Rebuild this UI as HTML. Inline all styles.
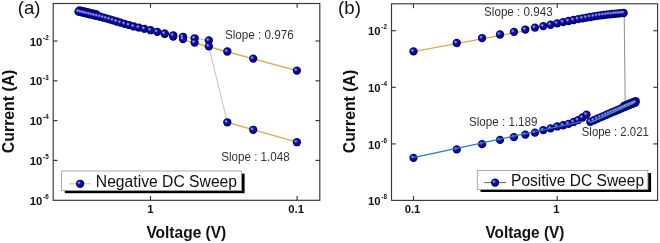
<!DOCTYPE html>
<html><head><meta charset="utf-8"><style>
html,body{margin:0;padding:0;background:#fff;}
body{width:660px;height:243px;overflow:hidden;}
svg{display:block;filter:blur(0.35px);}
text{font-family:"Liberation Sans",sans-serif;}
.tl{font-size:11.3px;font-weight:bold;fill:#111;}
.sup{font-size:6.3px;font-weight:bold;fill:#111;}
.at{font-weight:bold;fill:#111;}
.pl{font-size:18.6px;fill:#111;}
.sl{fill:#333;}
.lg{fill:#111;}
.tk{stroke:#383838;stroke-width:1.15;}
</style></head><body>
<svg width="660" height="243" viewBox="0 0 660 243">
<defs>
<radialGradient id="sg" cx="0.5" cy="0.5" r="0.5" fx="0.38" fy="0.36">
<stop offset="0" stop-color="#2c2cb6"/>
<stop offset="0.35" stop-color="#12129e"/>
<stop offset="0.75" stop-color="#06068a"/>
<stop offset="1" stop-color="#00006a"/>
</radialGradient>
<radialGradient id="hg" cx="0.5" cy="0.5" r="0.5">
<stop offset="0" stop-color="#b8b8f8" stop-opacity="0.95"/>
<stop offset="0.45" stop-color="#8c8ce8" stop-opacity="0.7"/>
<stop offset="1" stop-color="#6060e0" stop-opacity="0"/>
</radialGradient>
</defs>
<rect width="660" height="243" fill="#fff"/>
<rect x="53.2" y="3.5" width="266.60" height="196.80" fill="none" stroke="#383838" stroke-width="1.15"/>
<line x1="150.5" y1="3.5" x2="150.5" y2="7.8" class="tk"/>
<line x1="150.5" y1="200.3" x2="150.5" y2="196.0" class="tk"/>
<line x1="297.1" y1="3.5" x2="297.1" y2="7.8" class="tk"/>
<line x1="297.1" y1="200.3" x2="297.1" y2="196.0" class="tk"/>
<line x1="53.2" y1="41.0" x2="57.5" y2="41.0" class="tk"/>
<line x1="319.8" y1="41.0" x2="315.5" y2="41.0" class="tk"/>
<line x1="53.2" y1="80.8" x2="57.5" y2="80.8" class="tk"/>
<line x1="319.8" y1="80.8" x2="315.5" y2="80.8" class="tk"/>
<line x1="53.2" y1="120.6" x2="57.5" y2="120.6" class="tk"/>
<line x1="319.8" y1="120.6" x2="315.5" y2="120.6" class="tk"/>
<line x1="53.2" y1="160.4" x2="57.5" y2="160.4" class="tk"/>
<line x1="319.8" y1="160.4" x2="315.5" y2="160.4" class="tk"/>
<rect x="391.5" y="3.8" width="266.10" height="196.60" fill="none" stroke="#383838" stroke-width="1.15"/>
<line x1="413.5" y1="3.8" x2="413.5" y2="8.1" class="tk"/>
<line x1="413.5" y1="200.4" x2="413.5" y2="196.1" class="tk"/>
<line x1="557.2" y1="3.8" x2="557.2" y2="8.1" class="tk"/>
<line x1="557.2" y1="200.4" x2="557.2" y2="196.1" class="tk"/>
<line x1="391.5" y1="30.7" x2="395.8" y2="30.7" class="tk"/>
<line x1="657.6" y1="30.7" x2="653.3000000000001" y2="30.7" class="tk"/>
<line x1="391.5" y1="87.3" x2="395.8" y2="87.3" class="tk"/>
<line x1="657.6" y1="87.3" x2="653.3000000000001" y2="87.3" class="tk"/>
<line x1="391.5" y1="143.9" x2="395.8" y2="143.9" class="tk"/>
<line x1="657.6" y1="143.9" x2="653.3000000000001" y2="143.9" class="tk"/>
<text x="42.3" y="45.6" class="tl" text-anchor="end">10</text><text x="43.1" y="39.7" class="sup">-2</text>
<text x="42.3" y="85.4" class="tl" text-anchor="end">10</text><text x="43.1" y="79.5" class="sup">-3</text>
<text x="42.3" y="125.2" class="tl" text-anchor="end">10</text><text x="43.1" y="119.3" class="sup">-4</text>
<text x="42.3" y="165.0" class="tl" text-anchor="end">10</text><text x="43.1" y="159.1" class="sup">-5</text>
<text x="42.3" y="204.8" class="tl" text-anchor="end">10</text><text x="43.1" y="198.9" class="sup">-6</text>
<text x="380.5" y="35.3" class="tl" text-anchor="end">10</text><text x="381.3" y="29.4" class="sup">-2</text>
<text x="380.5" y="91.9" class="tl" text-anchor="end">10</text><text x="381.3" y="86.0" class="sup">-4</text>
<text x="380.5" y="148.5" class="tl" text-anchor="end">10</text><text x="381.3" y="142.6" class="sup">-6</text>
<text x="380.5" y="205.1" class="tl" text-anchor="end">10</text><text x="381.3" y="199.2" class="sup">-8</text>
<text x="150.4" y="212.9" class="tl" text-anchor="middle">1</text>
<text x="296.2" y="212.9" class="tl" text-anchor="middle">0.1</text>
<text x="412.5" y="212.9" class="tl" text-anchor="middle">0.1</text>
<text x="556.5" y="212.9" class="tl" text-anchor="middle">1</text>
<text x="146.38" y="237.80" class="at" font-size="16.2" textLength="79.91" lengthAdjust="spacingAndGlyphs" >Voltage (V)</text>
<text x="485.49" y="237.70" class="at" font-size="16.2" textLength="78.80" lengthAdjust="spacingAndGlyphs" >Voltage (V)</text>
<g transform="translate(13.7 0) rotate(-90)"><text x="-153.13" y="0.00" class="at" font-size="16.5" textLength="83.52" lengthAdjust="spacingAndGlyphs" >Current (A)</text></g>
<g transform="translate(354.9 0) rotate(-90)"><text x="-153.23" y="0.00" class="at" font-size="16.5" textLength="83.42" lengthAdjust="spacingAndGlyphs" >Current (A)</text></g>
<text x="17.8" y="14.2" class="pl">(a)</text>
<text x="338.1" y="14.2" class="pl">(b)</text>
<polyline points="208.84,40.41 194.63,38.30 183.02,36.80 173.21,35.30 164.71,33.68 157.21,31.80" fill="none" stroke="#b8b8b8" stroke-width="0.8"/>
<line x1="208.8" y1="46.5" x2="227.3" y2="122.3" stroke="#b4b4b4" stroke-width="0.8"/>
<line x1="180" y1="39.0" x2="296.9" y2="70.6" stroke="#cdb04c" stroke-width="1.3"/>
<line x1="227.3" y1="122.3" x2="296.9" y2="142.2" stroke="#cdb04c" stroke-width="1.3"/>
<line x1="413.3" y1="51.6" x2="522" y2="31.4" stroke="#cdb04c" stroke-width="1.3"/>
<line x1="624.2" y1="14" x2="625.2" y2="104" stroke="#7a7a7a" stroke-width="0.85"/>
<circle cx="79.50" cy="10.41" r="4.15" fill="url(#sg)"/>
<circle cx="81.62" cy="10.89" r="4.15" fill="url(#sg)"/>
<circle cx="83.82" cy="11.40" r="4.15" fill="url(#sg)"/>
<circle cx="86.09" cy="11.92" r="4.15" fill="url(#sg)"/>
<circle cx="88.45" cy="12.46" r="4.15" fill="url(#sg)"/>
<circle cx="90.90" cy="13.03" r="4.15" fill="url(#sg)"/>
<circle cx="93.45" cy="13.61" r="4.15" fill="url(#sg)"/>
<circle cx="96.10" cy="14.22" r="4.15" fill="url(#sg)"/>
<circle cx="78.47" cy="11.59" r="4.15" fill="url(#sg)"/>
<circle cx="80.55" cy="12.09" r="4.15" fill="url(#sg)"/>
<circle cx="82.71" cy="12.61" r="4.15" fill="url(#sg)"/>
<circle cx="84.95" cy="13.15" r="4.15" fill="url(#sg)"/>
<circle cx="87.26" cy="13.70" r="4.15" fill="url(#sg)"/>
<circle cx="89.66" cy="14.28" r="4.15" fill="url(#sg)"/>
<circle cx="92.16" cy="14.88" r="4.15" fill="url(#sg)"/>
<circle cx="94.76" cy="15.50" r="4.15" fill="url(#sg)"/>
<circle cx="97.47" cy="16.09" r="4.15" fill="url(#sg)"/>
<circle cx="100.30" cy="16.75" r="4.15" fill="url(#sg)"/>
<circle cx="103.26" cy="17.56" r="4.15" fill="url(#sg)"/>
<circle cx="106.37" cy="18.41" r="4.15" fill="url(#sg)"/>
<circle cx="109.63" cy="19.30" r="4.15" fill="url(#sg)"/>
<circle cx="113.08" cy="20.38" r="4.15" fill="url(#sg)"/>
<circle cx="116.72" cy="21.51" r="4.15" fill="url(#sg)"/>
<circle cx="120.58" cy="22.67" r="4.15" fill="url(#sg)"/>
<circle cx="124.69" cy="23.91" r="4.15" fill="url(#sg)"/>
<circle cx="129.08" cy="25.14" r="4.15" fill="url(#sg)"/>
<circle cx="133.80" cy="26.46" r="4.15" fill="url(#sg)"/>
<circle cx="138.89" cy="27.63" r="4.15" fill="url(#sg)"/>
<circle cx="144.43" cy="28.81" r="4.15" fill="url(#sg)"/>
<circle cx="150.50" cy="30.20" r="4.15" fill="url(#sg)"/>
<circle cx="157.21" cy="31.80" r="4.15" fill="url(#sg)"/>
<circle cx="164.71" cy="33.68" r="4.15" fill="url(#sg)"/>
<circle cx="164.71" cy="33.74" r="4.15" fill="url(#sg)"/>
<circle cx="173.21" cy="35.30" r="4.15" fill="url(#sg)"/>
<circle cx="173.21" cy="36.60" r="4.15" fill="url(#sg)"/>
<circle cx="183.02" cy="36.80" r="4.15" fill="url(#sg)"/>
<circle cx="183.02" cy="39.11" r="4.15" fill="url(#sg)"/>
<circle cx="194.63" cy="38.30" r="4.15" fill="url(#sg)"/>
<circle cx="194.63" cy="42.61" r="4.15" fill="url(#sg)"/>
<circle cx="208.84" cy="40.41" r="4.15" fill="url(#sg)"/>
<circle cx="208.84" cy="46.31" r="4.15" fill="url(#sg)"/>
<circle cx="227.30" cy="51.50" r="4.15" fill="url(#sg)"/>
<circle cx="227.30" cy="122.30" r="4.15" fill="url(#sg)"/>
<circle cx="253.20" cy="58.60" r="4.15" fill="url(#sg)"/>
<circle cx="253.20" cy="129.80" r="4.15" fill="url(#sg)"/>
<circle cx="296.90" cy="70.60" r="4.15" fill="url(#sg)"/>
<circle cx="296.90" cy="142.20" r="4.15" fill="url(#sg)"/>
<circle cx="623.95" cy="106.00" r="4.15" fill="url(#sg)"/>
<circle cx="626.06" cy="105.09" r="4.15" fill="url(#sg)"/>
<circle cx="628.11" cy="104.27" r="4.15" fill="url(#sg)"/>
<circle cx="630.09" cy="103.47" r="4.15" fill="url(#sg)"/>
<circle cx="632.01" cy="102.69" r="4.15" fill="url(#sg)"/>
<circle cx="633.87" cy="101.94" r="4.15" fill="url(#sg)"/>
<circle cx="635.68" cy="101.21" r="4.15" fill="url(#sg)"/>
<circle cx="413.50" cy="51.36" r="4.15" fill="url(#sg)"/>
<circle cx="413.50" cy="157.86" r="4.15" fill="url(#sg)"/>
<circle cx="456.76" cy="43.01" r="4.15" fill="url(#sg)"/>
<circle cx="456.76" cy="149.41" r="4.15" fill="url(#sg)"/>
<circle cx="482.06" cy="38.05" r="4.15" fill="url(#sg)"/>
<circle cx="482.06" cy="144.14" r="4.15" fill="url(#sg)"/>
<circle cx="500.02" cy="34.50" r="4.15" fill="url(#sg)"/>
<circle cx="500.02" cy="139.94" r="4.15" fill="url(#sg)"/>
<circle cx="513.94" cy="31.91" r="4.15" fill="url(#sg)"/>
<circle cx="513.94" cy="137.17" r="4.15" fill="url(#sg)"/>
<circle cx="525.32" cy="29.54" r="4.15" fill="url(#sg)"/>
<circle cx="525.32" cy="134.61" r="4.15" fill="url(#sg)"/>
<circle cx="534.94" cy="27.58" r="4.15" fill="url(#sg)"/>
<circle cx="534.94" cy="132.63" r="4.15" fill="url(#sg)"/>
<circle cx="543.27" cy="26.12" r="4.15" fill="url(#sg)"/>
<circle cx="543.27" cy="130.13" r="4.15" fill="url(#sg)"/>
<circle cx="550.62" cy="24.75" r="4.15" fill="url(#sg)"/>
<circle cx="550.62" cy="128.36" r="4.15" fill="url(#sg)"/>
<circle cx="557.20" cy="23.32" r="4.15" fill="url(#sg)"/>
<circle cx="557.20" cy="126.46" r="4.15" fill="url(#sg)"/>
<circle cx="563.15" cy="22.11" r="4.15" fill="url(#sg)"/>
<circle cx="563.15" cy="125.27" r="4.15" fill="url(#sg)"/>
<circle cx="568.58" cy="21.01" r="4.15" fill="url(#sg)"/>
<circle cx="568.58" cy="123.84" r="4.15" fill="url(#sg)"/>
<circle cx="573.57" cy="20.00" r="4.15" fill="url(#sg)"/>
<circle cx="573.57" cy="121.96" r="4.15" fill="url(#sg)"/>
<circle cx="578.20" cy="19.07" r="4.15" fill="url(#sg)"/>
<circle cx="578.20" cy="120.05" r="4.15" fill="url(#sg)"/>
<circle cx="582.50" cy="18.29" r="4.15" fill="url(#sg)"/>
<circle cx="582.50" cy="117.51" r="4.15" fill="url(#sg)"/>
<circle cx="586.53" cy="17.62" r="4.15" fill="url(#sg)"/>
<circle cx="586.53" cy="114.58" r="4.15" fill="url(#sg)"/>
<circle cx="590.32" cy="17.00" r="4.15" fill="url(#sg)"/>
<circle cx="590.32" cy="121.79" r="4.15" fill="url(#sg)"/>
<circle cx="593.88" cy="16.41" r="4.15" fill="url(#sg)"/>
<circle cx="593.88" cy="120.24" r="4.15" fill="url(#sg)"/>
<circle cx="597.26" cy="15.85" r="4.15" fill="url(#sg)"/>
<circle cx="597.26" cy="118.76" r="4.15" fill="url(#sg)"/>
<circle cx="600.46" cy="15.35" r="4.15" fill="url(#sg)"/>
<circle cx="600.46" cy="117.37" r="4.15" fill="url(#sg)"/>
<circle cx="603.50" cy="14.99" r="4.15" fill="url(#sg)"/>
<circle cx="603.50" cy="116.04" r="4.15" fill="url(#sg)"/>
<circle cx="606.41" cy="14.65" r="4.15" fill="url(#sg)"/>
<circle cx="606.41" cy="114.77" r="4.15" fill="url(#sg)"/>
<circle cx="609.18" cy="14.33" r="4.15" fill="url(#sg)"/>
<circle cx="609.18" cy="113.56" r="4.15" fill="url(#sg)"/>
<circle cx="611.84" cy="14.02" r="4.15" fill="url(#sg)"/>
<circle cx="611.84" cy="112.44" r="4.15" fill="url(#sg)"/>
<circle cx="614.38" cy="13.79" r="4.15" fill="url(#sg)"/>
<circle cx="614.38" cy="111.39" r="4.15" fill="url(#sg)"/>
<circle cx="616.83" cy="13.58" r="4.15" fill="url(#sg)"/>
<circle cx="616.83" cy="110.38" r="4.15" fill="url(#sg)"/>
<circle cx="619.19" cy="13.38" r="4.15" fill="url(#sg)"/>
<circle cx="619.19" cy="109.37" r="4.15" fill="url(#sg)"/>
<circle cx="621.46" cy="13.18" r="4.15" fill="url(#sg)"/>
<circle cx="621.46" cy="108.37" r="4.15" fill="url(#sg)"/>
<circle cx="623.65" cy="13.00" r="4.15" fill="url(#sg)"/>
<circle cx="623.65" cy="107.40" r="4.15" fill="url(#sg)"/>
<circle cx="625.76" cy="106.49" r="4.15" fill="url(#sg)"/>
<circle cx="627.81" cy="105.67" r="4.15" fill="url(#sg)"/>
<circle cx="629.79" cy="104.87" r="4.15" fill="url(#sg)"/>
<circle cx="631.71" cy="104.09" r="4.15" fill="url(#sg)"/>
<circle cx="633.57" cy="103.34" r="4.15" fill="url(#sg)"/>
<circle cx="635.38" cy="102.61" r="4.15" fill="url(#sg)"/>
<circle cx="77.27" cy="10.59" r="2.0" fill="url(#hg)"/>
<circle cx="79.35" cy="11.09" r="2.0" fill="url(#hg)"/>
<circle cx="81.51" cy="11.61" r="2.0" fill="url(#hg)"/>
<circle cx="83.75" cy="12.15" r="2.0" fill="url(#hg)"/>
<circle cx="86.06" cy="12.70" r="2.0" fill="url(#hg)"/>
<circle cx="88.46" cy="13.28" r="2.0" fill="url(#hg)"/>
<circle cx="90.96" cy="13.88" r="2.0" fill="url(#hg)"/>
<circle cx="93.56" cy="14.50" r="2.0" fill="url(#hg)"/>
<circle cx="96.27" cy="15.09" r="2.0" fill="url(#hg)"/>
<circle cx="99.10" cy="15.75" r="2.0" fill="url(#hg)"/>
<circle cx="102.06" cy="16.56" r="2.0" fill="url(#hg)"/>
<circle cx="105.17" cy="17.41" r="2.0" fill="url(#hg)"/>
<circle cx="108.43" cy="18.30" r="2.0" fill="url(#hg)"/>
<circle cx="111.88" cy="19.38" r="2.0" fill="url(#hg)"/>
<circle cx="115.52" cy="20.51" r="2.0" fill="url(#hg)"/>
<circle cx="119.38" cy="21.67" r="2.0" fill="url(#hg)"/>
<circle cx="123.49" cy="22.91" r="2.0" fill="url(#hg)"/>
<circle cx="127.88" cy="24.14" r="2.0" fill="url(#hg)"/>
<circle cx="132.60" cy="25.46" r="2.0" fill="url(#hg)"/>
<circle cx="137.69" cy="26.63" r="2.0" fill="url(#hg)"/>
<circle cx="143.23" cy="27.81" r="2.0" fill="url(#hg)"/>
<circle cx="149.30" cy="29.20" r="2.0" fill="url(#hg)"/>
<circle cx="156.01" cy="30.80" r="2.0" fill="url(#hg)"/>
<circle cx="163.51" cy="32.68" r="2.0" fill="url(#hg)"/>
<circle cx="172.01" cy="34.30" r="2.0" fill="url(#hg)"/>
<circle cx="181.82" cy="35.80" r="2.0" fill="url(#hg)"/>
<circle cx="181.82" cy="38.11" r="2.0" fill="url(#hg)"/>
<circle cx="193.43" cy="37.30" r="2.0" fill="url(#hg)"/>
<circle cx="193.43" cy="41.61" r="2.0" fill="url(#hg)"/>
<circle cx="207.64" cy="39.41" r="2.0" fill="url(#hg)"/>
<circle cx="207.64" cy="45.31" r="2.0" fill="url(#hg)"/>
<circle cx="226.10" cy="50.50" r="2.0" fill="url(#hg)"/>
<circle cx="226.10" cy="121.30" r="2.0" fill="url(#hg)"/>
<circle cx="252.00" cy="57.60" r="2.0" fill="url(#hg)"/>
<circle cx="252.00" cy="128.80" r="2.0" fill="url(#hg)"/>
<circle cx="295.70" cy="69.60" r="2.0" fill="url(#hg)"/>
<circle cx="295.70" cy="141.20" r="2.0" fill="url(#hg)"/>
<circle cx="412.30" cy="50.36" r="2.0" fill="url(#hg)"/>
<circle cx="412.30" cy="156.86" r="2.0" fill="url(#hg)"/>
<circle cx="455.56" cy="42.01" r="2.0" fill="url(#hg)"/>
<circle cx="455.56" cy="148.41" r="2.0" fill="url(#hg)"/>
<circle cx="480.86" cy="37.05" r="2.0" fill="url(#hg)"/>
<circle cx="480.86" cy="143.14" r="2.0" fill="url(#hg)"/>
<circle cx="498.82" cy="33.50" r="2.0" fill="url(#hg)"/>
<circle cx="498.82" cy="138.94" r="2.0" fill="url(#hg)"/>
<circle cx="512.74" cy="30.91" r="2.0" fill="url(#hg)"/>
<circle cx="512.74" cy="136.17" r="2.0" fill="url(#hg)"/>
<circle cx="524.12" cy="28.54" r="2.0" fill="url(#hg)"/>
<circle cx="524.12" cy="133.61" r="2.0" fill="url(#hg)"/>
<circle cx="533.74" cy="26.58" r="2.0" fill="url(#hg)"/>
<circle cx="533.74" cy="131.63" r="2.0" fill="url(#hg)"/>
<circle cx="542.07" cy="25.12" r="2.0" fill="url(#hg)"/>
<circle cx="542.07" cy="129.13" r="2.0" fill="url(#hg)"/>
<circle cx="549.42" cy="23.75" r="2.0" fill="url(#hg)"/>
<circle cx="549.42" cy="127.36" r="2.0" fill="url(#hg)"/>
<circle cx="556.00" cy="22.32" r="2.0" fill="url(#hg)"/>
<circle cx="556.00" cy="125.46" r="2.0" fill="url(#hg)"/>
<circle cx="561.95" cy="21.11" r="2.0" fill="url(#hg)"/>
<circle cx="561.95" cy="124.27" r="2.0" fill="url(#hg)"/>
<circle cx="567.38" cy="20.01" r="2.0" fill="url(#hg)"/>
<circle cx="567.38" cy="122.84" r="2.0" fill="url(#hg)"/>
<circle cx="572.37" cy="19.00" r="2.0" fill="url(#hg)"/>
<circle cx="572.37" cy="120.96" r="2.0" fill="url(#hg)"/>
<circle cx="577.00" cy="18.07" r="2.0" fill="url(#hg)"/>
<circle cx="577.00" cy="119.05" r="2.0" fill="url(#hg)"/>
<circle cx="581.30" cy="17.29" r="2.0" fill="url(#hg)"/>
<circle cx="581.30" cy="116.51" r="2.0" fill="url(#hg)"/>
<circle cx="585.33" cy="16.62" r="2.0" fill="url(#hg)"/>
<circle cx="585.33" cy="113.58" r="2.0" fill="url(#hg)"/>
<circle cx="589.12" cy="16.00" r="2.0" fill="url(#hg)"/>
<circle cx="589.12" cy="120.79" r="2.0" fill="url(#hg)"/>
<circle cx="592.68" cy="15.41" r="2.0" fill="url(#hg)"/>
<circle cx="592.68" cy="119.24" r="2.0" fill="url(#hg)"/>
<circle cx="596.06" cy="14.85" r="2.0" fill="url(#hg)"/>
<circle cx="596.06" cy="117.76" r="2.0" fill="url(#hg)"/>
<circle cx="599.26" cy="14.35" r="2.0" fill="url(#hg)"/>
<circle cx="599.26" cy="116.37" r="2.0" fill="url(#hg)"/>
<circle cx="602.30" cy="13.99" r="2.0" fill="url(#hg)"/>
<circle cx="602.30" cy="115.04" r="2.0" fill="url(#hg)"/>
<circle cx="605.21" cy="13.65" r="2.0" fill="url(#hg)"/>
<circle cx="605.21" cy="113.77" r="2.0" fill="url(#hg)"/>
<circle cx="607.98" cy="13.33" r="2.0" fill="url(#hg)"/>
<circle cx="607.98" cy="112.56" r="2.0" fill="url(#hg)"/>
<circle cx="610.64" cy="13.02" r="2.0" fill="url(#hg)"/>
<circle cx="610.64" cy="111.44" r="2.0" fill="url(#hg)"/>
<circle cx="613.18" cy="12.79" r="2.0" fill="url(#hg)"/>
<circle cx="613.18" cy="110.39" r="2.0" fill="url(#hg)"/>
<circle cx="615.63" cy="12.58" r="2.0" fill="url(#hg)"/>
<circle cx="615.63" cy="109.38" r="2.0" fill="url(#hg)"/>
<circle cx="617.99" cy="12.38" r="2.0" fill="url(#hg)"/>
<circle cx="617.99" cy="108.37" r="2.0" fill="url(#hg)"/>
<circle cx="620.26" cy="12.18" r="2.0" fill="url(#hg)"/>
<circle cx="620.26" cy="107.37" r="2.0" fill="url(#hg)"/>
<circle cx="622.45" cy="12.00" r="2.0" fill="url(#hg)"/>
<circle cx="622.45" cy="106.40" r="2.0" fill="url(#hg)"/>
<circle cx="624.56" cy="105.49" r="2.0" fill="url(#hg)"/>
<circle cx="626.61" cy="104.67" r="2.0" fill="url(#hg)"/>
<circle cx="628.59" cy="103.87" r="2.0" fill="url(#hg)"/>
<circle cx="630.51" cy="103.09" r="2.0" fill="url(#hg)"/>
<circle cx="632.37" cy="102.34" r="2.0" fill="url(#hg)"/>
<circle cx="634.18" cy="101.61" r="2.0" fill="url(#hg)"/>
<line x1="413.3" y1="157.6" x2="582" y2="121.7" stroke="#2b78c0" stroke-width="1.25"/>
<line x1="590.3" y1="122.6" x2="634" y2="102.8" stroke="#2fa8a0" stroke-width="1.3"/>
<text x="224.97" y="38.60" class="sl" font-size="12.0" textLength="68.84" lengthAdjust="spacingAndGlyphs" >Slope : 0.976</text>
<text x="221.18" y="161.20" class="sl" font-size="12.0" textLength="68.53" lengthAdjust="spacingAndGlyphs" >Slope : 1.048</text>
<text x="484.08" y="16.00" class="sl" font-size="12.0" textLength="68.53" lengthAdjust="spacingAndGlyphs" >Slope : 0.943</text>
<text x="468.98" y="126.40" class="sl" font-size="12.0" textLength="68.56" lengthAdjust="spacingAndGlyphs" >Slope : 1.189</text>
<text x="581.79" y="135.60" class="sl" font-size="12.0" textLength="67.07" lengthAdjust="spacingAndGlyphs" >Slope : 2.021</text>
<rect x="64.8" y="173.6" width="179.8" height="19.599999999999994" fill="#000"/>
<rect x="61.6" y="171.0" width="179.8" height="19.599999999999994" fill="#fff" stroke="#a0a0a0" stroke-width="0.9"/>
<line x1="69" y1="183.8" x2="90.6" y2="183.8" stroke="#c8c8c8" stroke-width="1.05"/>
<circle cx="80.10" cy="183.80" r="4.15" fill="url(#sg)"/><circle cx="78.90" cy="182.80" r="2.0" fill="url(#hg)"/>
<text x="95.81" y="187.10" class="lg" font-size="15.8" textLength="141.26" lengthAdjust="spacingAndGlyphs" >Negative DC Sweep</text>
<rect x="480.5" y="173.1" width="170.59999999999997" height="18.900000000000006" fill="#000"/>
<rect x="477.3" y="170.5" width="170.59999999999997" height="18.900000000000006" fill="#fff" stroke="#a0a0a0" stroke-width="0.9"/>
<line x1="484.2" y1="182.6" x2="505.8" y2="182.6" stroke="#666" stroke-width="1.05"/>
<circle cx="495.10" cy="182.60" r="4.15" fill="url(#sg)"/><circle cx="493.90" cy="181.60" r="2.0" fill="url(#hg)"/>
<text x="511.02" y="185.50" class="lg" font-size="15.8" textLength="133.03" lengthAdjust="spacingAndGlyphs" >Positive DC Sweep</text>
</svg>
</body></html>
